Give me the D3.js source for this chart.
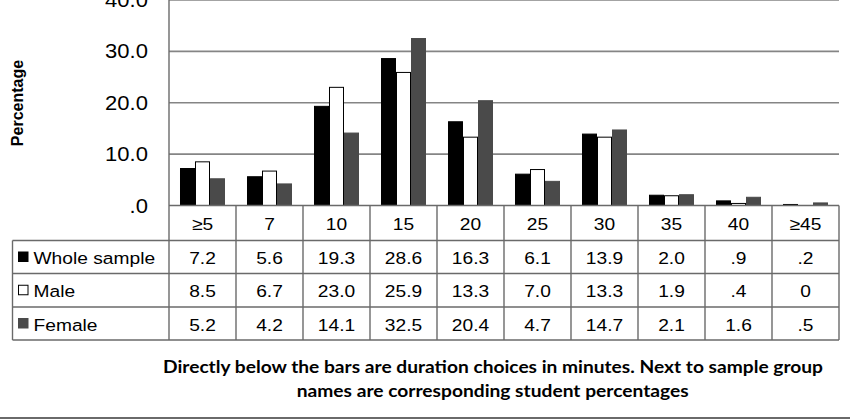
<!DOCTYPE html>
<html><head><meta charset="utf-8">
<script src="https://cdn.jsdelivr.net/npm/d3@7"></script>
<style>
html,body{margin:0;padding:0;background:#fff;}
svg{display:block;}
text{font-family:"Liberation Sans",Arial,sans-serif;fill:#000;}
</style></head>
<body>
<svg id="c" width="850" height="419"></svg>
<script>
const categories = ["≥5","7","10","15","20","25","30","35","40","≥45"];
const seriesNames = ["Whole sample","Male","Female"];
const wholeSample = [7.2,5.6,19.3,28.6,16.3,6.1,13.9,2.0,0.9,0.2];
const male        = [8.5,6.7,23.0,25.9,13.3,7.0,13.3,1.9,0.4,0];
const female      = [5.2,4.2,14.1,32.5,20.4,4.7,14.7,2.1,1.6,0.5];
const yTicks = [0,10,20,30,40];
const yLabel = "Percentage";
const footnote = ["Directly below the bars are duration choices in minutes. Next to sample group",
                  "names are corresponding student percentages"];

const seriesValues = [wholeSample, male, female];
const fills = ["#000000","#ffffff","#4a4a4a"];
const strokes = ["#000000","#000000","#4a4a4a"];

const svg = d3.select("#c");
const SX = 1.13; // horizontal glyph stretch
const left = 169, right = 839, y0px = 205.5;
const tableLeft = 12.5;
const rowEdges = [205.5, 240.5, 273.5, 307, 340];

const x0 = d3.scaleBand().domain(categories).range([left, right]).paddingInner(0).paddingOuter(0);
const x1 = d3.scaleBand().domain(seriesNames).range([0, x0.bandwidth()]).paddingInner(0).paddingOuter(0.733);
const y = d3.scaleLinear().domain([0,40]).range([y0px, 0]);

const fmt = v => v.toFixed(1).replace(/^0\./, ".");
const fmtCell = v => v === 0 ? "0" : fmt(v);

function stext(g, x, yy, str, size, anchor, weight) {
  return g.append("text")
    .attr("transform", `translate(${x},${yy}) scale(${SX},1)`)
    .attr("text-anchor", anchor)
    .style("font-size", size + "px")
    .style("font-weight", weight || "normal")
    .text(str);
}

// gridlines
const grid = svg.append("g");
grid.selectAll("line").data(yTicks.filter(t => t > 0)).join("line")
  .attr("x1", left).attr("x2", right)
  .attr("y1", d => y(d)).attr("y2", d => y(d))
  .attr("stroke", "#858585").attr("stroke-width", 1.6);

// y tick labels
const yl = svg.append("g");
yTicks.forEach(t => stext(yl, 148, y(t) + 7, fmt(t), 19.5, "end"));

// y axis title
svg.append("text")
  .attr("transform", `translate(23,103) rotate(-90)`)
  .attr("text-anchor", "middle")
  .style("font-size", "16px").style("font-weight", "bold")
  .text(yLabel);

// bars
const bars = svg.append("g");
seriesNames.forEach((s, si) => {
  bars.append("g").selectAll("rect").data(seriesValues[si].map((v, i) => ({c: categories[i], v})))
    .join("rect")
    .attr("x", d => x0(d.c) + x1(s) + 0.5)
    .attr("width", x1.bandwidth() - 1)
    .attr("y", d => y(d.v))
    .attr("height", d => y(0) - y(d.v))
    .attr("fill", fills[si])
    .attr("stroke", strokes[si]).attr("stroke-width", 1);
});

// table lines
const lineColor = "#6a6a6a", lw = 1.4;
const tl = svg.append("g").attr("stroke", lineColor).attr("stroke-width", lw);
// zero line
tl.append("line").attr("x1", left).attr("x2", right).attr("y1", y(0)).attr("y2", y(0));
// left axis
tl.append("line").attr("x1", left).attr("x2", left).attr("y1", y(40)).attr("y2", rowEdges[4]);
// horizontal rows
rowEdges.slice(1).forEach(r => {
  tl.append("line").attr("x1", tableLeft).attr("x2", right).attr("y1", r).attr("y2", r);
});
// legend left border
tl.append("line").attr("x1", tableLeft).attr("x2", tableLeft).attr("y1", rowEdges[1]).attr("y2", rowEdges[4]);
// column separators
categories.forEach(c => {
  tl.append("line").attr("x1", x0(c) + x0.bandwidth()).attr("x2", x0(c) + x0.bandwidth())
    .attr("y1", rowEdges[0]).attr("y2", rowEdges[4]);
});

// category labels
const tt = svg.append("g");
categories.forEach(c => {
  const cy = (rowEdges[0] + rowEdges[1]) / 2;
  stext(tt, x0(c) + x0.bandwidth()/2, cy + 7, c, 17, "middle");
});
// value cells and legend
seriesNames.forEach((s, si) => {
  const cy = (rowEdges[si+1] + rowEdges[si+2]) / 2;
  seriesValues[si].forEach((v, i) => {
    stext(tt, x0(categories[i]) + x0.bandwidth()/2, cy + 7, fmtCell(v), 17, "middle");
  });
  svg.append("rect").attr("x", 18.5).attr("y", cy - 5).attr("width", 9.5).attr("height", 9.5)
    .attr("fill", fills[si]).attr("stroke", strokes[si]).attr("stroke-width", 1);
  stext(tt, 33.5, cy + 7, s, 17, "start");
});

// footnote
const fn = svg.append("g");
fn.append("text").attr("x", 163).attr("y", 372.7)
  .attr("textLength", 660).attr("lengthAdjust", "spacingAndGlyphs")
  .style("font-family", "Lato, 'Open Sans', sans-serif").style("font-weight", "bold").style("font-size", "16.5px")
  .text(footnote[0]);
fn.append("text").attr("x", 296.7).attr("y", 396.7)
  .attr("textLength", 392).attr("lengthAdjust", "spacingAndGlyphs")
  .style("font-family", "Lato, 'Open Sans', sans-serif").style("font-weight", "bold").style("font-size", "16.5px")
  .text(footnote[1]);

// bottom rule
svg.append("line").attr("x1", 0).attr("x2", 850).attr("y1", 418).attr("y2", 418)
  .attr("stroke", "#6a6a6a").attr("stroke-width", 2);
</script>
</body></html>
